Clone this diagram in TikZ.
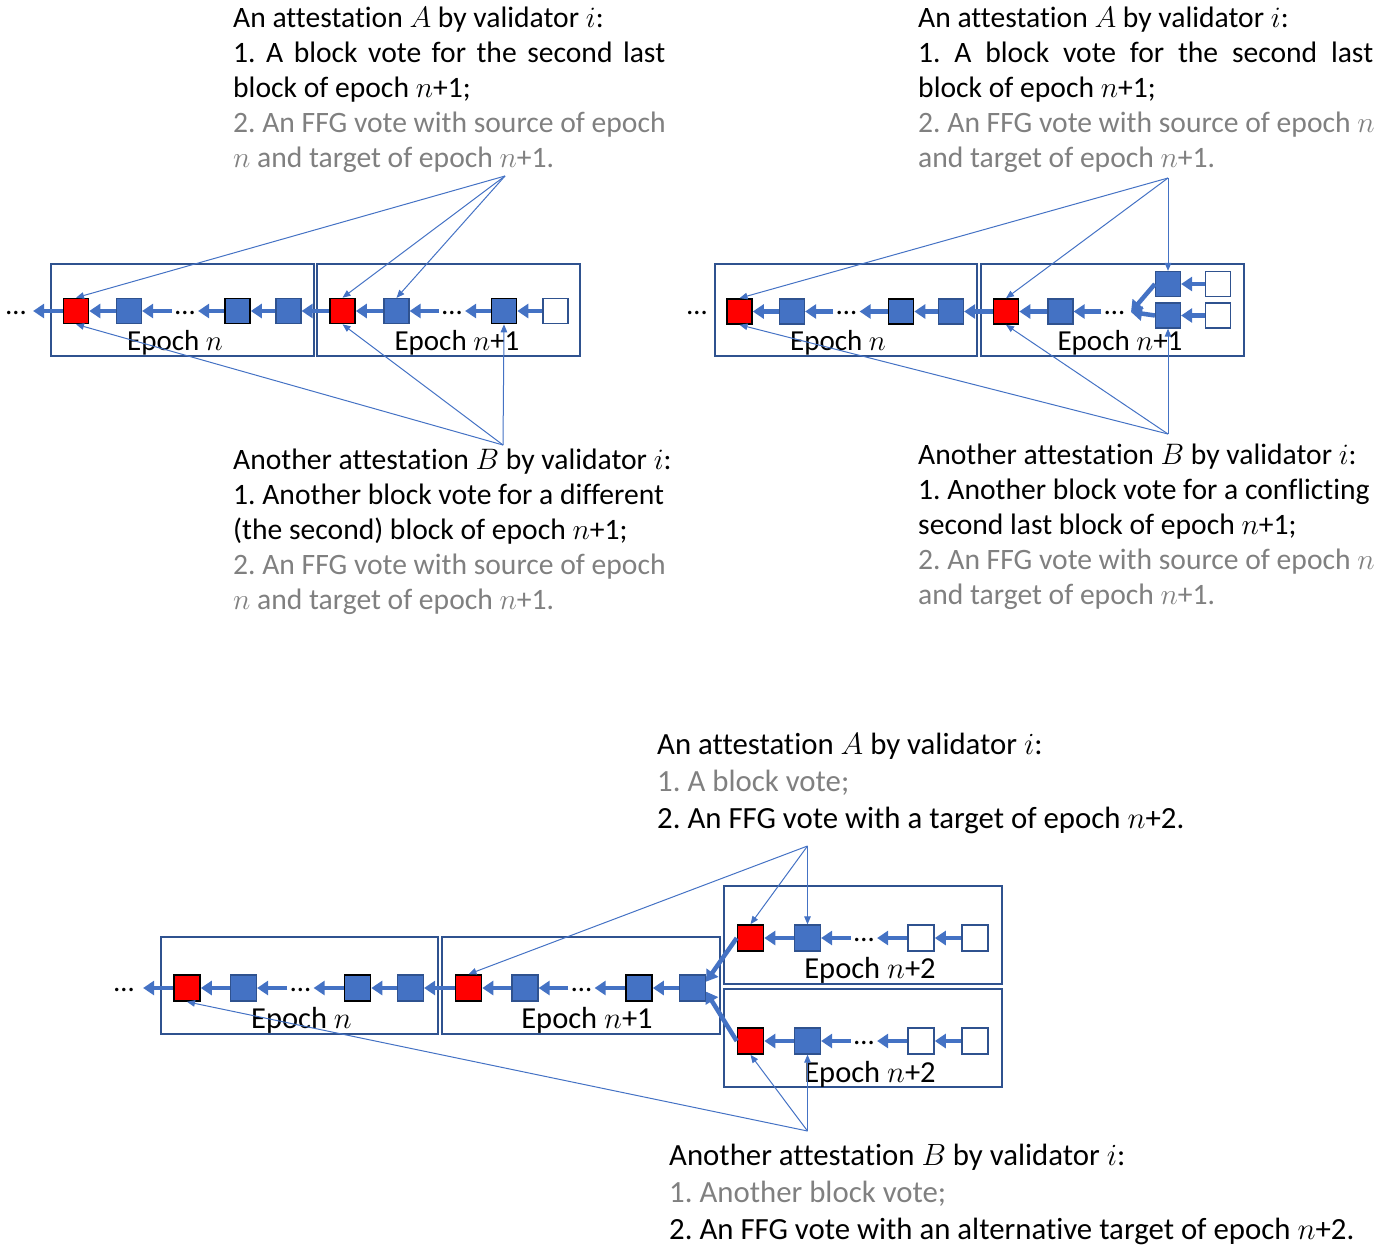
\RequirePackage{fix-cm}
\documentclass[tikz,border=0pt]{standalone}
\usepackage{fontspec}
\setmainfont{Carlito}[Ligatures=NoCommon]
\usetikzlibrary{arrows.meta}
\frenchspacing

\definecolor{officeblue}{HTML}{4472C4}
\definecolor{edgeblue}{HTML}{2F528F}
\definecolor{notegray}{HTML}{808080}
\newcommand{\grayline}[1]{{\color{notegray}#1}}
% ellipsis set on the chain axis, with no height of its own
\newcommand{\chaindots}{\raisebox{-3pt}[0pt][0pt]{…}}

\begin{document}
\begin{tikzpicture}[x=1pt, y=-1pt,
  blk/.style={rectangle, minimum size=25pt, inner sep=0pt, draw=edgeblue, line width=1.2pt, fill=officeblue},
  blkb/.style={blk, draw=black, line width=1.6pt},
  blkr/.style={blk, fill=red, draw=black, line width=1.6pt},
  blkw/.style={blk, fill=white, draw=edgeblue, line width=1.6pt},
  wide/.style={minimum size=26pt},
  dots/.style={inner xsep=3pt, inner ysep=3pt, font=\fontsize{28.7}{35}\selectfont},
  chain/.style={draw=officeblue, line width=4.5pt, -{Triangle[length=11pt,width=14pt]}},
  vote/.style={draw=officeblue, line width=1pt, -{Triangle[length=8pt,width=6.5pt]}},
  epochbox/.style={draw=edgeblue, line width=1.6pt, inner sep=0pt},
  lbl/.style={anchor=base, inner sep=0pt, font=\fontsize{29}{35}\selectfont},
  lblb/.style={lbl, font=\fontsize{30.5}{37}\selectfont},
  note/.style={anchor=base west, inner sep=0pt, align=left, font=\fontsize{29.6}{35}\selectfont},
  noteb/.style={note, font=\fontsize{30.8}{37}\selectfont}
]
\useasboundingbox (0,0) rectangle (1392,1245);

% ---------------- top left: two block votes in epoch n+1 ----------------
\node[epochbox, minimum width=263pt, minimum height=92pt] (tlE1) at (182.5,310) {};
\node[epochbox, minimum width=263pt, minimum height=92pt] (tlE2) at (448.5,310) {};
\node[lbl] (tlL1) at (175,350) {Epoch $n$};
\node[lbl] (tlL2) at (457,350) {Epoch $n$+1};

\node[dots] (tl0) at (16,311) {\chaindots};
\node[blkr] (tl1) at (76,311) {};
\node[blk]  (tl2) at (129,311) {};
\node[dots] (tl3) at (185,311) {\chaindots};
\node[blkb] (tl4) at (237.5,311) {};
\node[blk]  (tl5) at (288.5,311) {};
\node[blkr] (tl6) at (342.5,311) {};
\node[blk]  (tl7) at (396.5,311) {};
\node[dots] (tl8) at (452,311) {\chaindots};
\node[blkb] (tl9) at (504,311) {};
\node[blkw] (tl10) at (555.5,311) {};

\draw[chain, shorten >=4pt] (tl1) -- (tl0);
\draw[chain] (tl2) -- (tl1);
\draw[chain] (tl3) -- (tl2);
\draw[chain] (tl4) -- (tl3);
\draw[chain] (tl5) -- (tl4);
\draw[chain] (tl6) -- (tl5);
\draw[chain] (tl7) -- (tl6);
\draw[chain] (tl8) -- (tl7);
\draw[chain] (tl9) -- (tl8);
\draw[chain] (tl10) -- (tl9);

\coordinate (tlA) at (505,176);
\coordinate (tlB) at (503,445);
\draw[vote] (tlA) -- (tl1.north);
\draw[vote] (tlA) -- (tl6.north);
\draw[vote] (tlA) -- (tl7.north);
\draw[vote] (tlB) -- (tl1.south);
\draw[vote] (tlB) -- (tl6.south);
\draw[vote] (tlB) -- (tl9.south);

% multi-line notes are anchored at the baseline of their last line
\node[note] (tlAtxt) at (233,167) {An attestation $A$ by validator $i$:\\
  \makebox[432pt][s]{1. A block vote for the second last}\\
  block of epoch $n$+1;\\
  \grayline{2. An FFG vote with source of epoch}\\
  \grayline{$n$ and target of epoch $n$+1.}};
\node[note] (tlBtxt) at (233,609) {Another attestation $B$ by validator $i$:\\
  1. Another block vote for a different\\
  (the second) block of epoch $n$+1;\\
  \grayline{2. An FFG vote with source of epoch}\\
  \grayline{$n$ and target of epoch $n$+1.}};

% ---------------- top right: conflicting second last blocks ----------------
\node[epochbox, minimum width=262pt, minimum height=92pt] (trE1) at (846,310) {};
\node[epochbox, minimum width=263pt, minimum height=92pt] (trE2) at (1112.5,310) {};
\node[lbl] (trL1) at (838,350) {Epoch $n$};
\node[lbl] (trL2) at (1120,350) {Epoch $n$+1};

\node[dots] (tr0) at (697,311.5) {\chaindots};
\node[blkr] (tr1) at (739.5,311.5) {};
\node[blk]  (tr2) at (792,311.5) {};
\node[dots] (tr3) at (846.5,311.5) {\chaindots};
\node[blkb] (tr4) at (901,311.5) {};
\node[blk]  (tr5) at (951,311.5) {};
\node[blkr] (tr6) at (1006,311.5) {};
\node[blk]  (tr7) at (1060.5,311.5) {};
\node[dots] (tr8) at (1114.5,311.5) {\chaindots};
\coordinate (trM) at (1131,312);
\node[blk]  (trU) at (1168,284) {};
\node[blk]  (trD) at (1168,315.5) {};
\node[blkw] (trUw) at (1218,284) {};
\node[blkw] (trDw) at (1218,315.5) {};

\draw[chain] (tr2) -- (tr1);
\draw[chain] (tr3) -- (tr2);
\draw[chain] (tr4) -- (tr3);
\draw[chain] (tr5) -- (tr4);
\draw[chain] (tr6) -- (tr5);
\draw[chain] (tr7) -- (tr6);
\draw[chain] (tr8) -- (tr7);
\draw[chain] (trU.west) -- (trM);
\draw[chain] (trD.west) -- (trM);
\draw[chain] (trUw) -- (trU);
\draw[chain] (trDw) -- (trD);

\coordinate (trA) at (1168,178);
\coordinate (trB) at (1168,434);
\draw[vote] (trA) -- (tr1.north);
\draw[vote] (trA) -- (tr6.north);
\draw[vote] (trA) -- (trU.north);
\draw[vote] (trB) -- (tr1.south);
\draw[vote] (trB) -- (tr6.south);
\draw[vote] (trB) -- (trD.south);

\node[note] (trAtxt) at (918,167) {An attestation $A$ by validator $i$:\\
  \makebox[455pt][s]{1. A block vote for the second last}\\
  block of epoch $n$+1;\\
  \grayline{2. An FFG vote with source of epoch $n$}\\
  \grayline{and target of epoch $n$+1.}};
\node[note] (trBtxt) at (918,604) {Another attestation $B$ by validator $i$:\\
  1. Another block vote for a conflicting\\
  second last block of epoch $n$+1;\\
  \grayline{2. An FFG vote with source of epoch $n$}\\
  \grayline{and target of epoch $n$+1.}};

% ---------------- bottom: two targets in epoch n+2 ----------------
\node[epochbox, minimum width=277pt, minimum height=97pt] (bE1) at (299.5,985.5) {};
\node[epochbox, minimum width=278pt, minimum height=97pt] (bE2) at (581,985.5) {};
\node[epochbox, minimum width=278pt, minimum height=98pt] (bE3) at (863,935) {};
\node[epochbox, minimum width=278pt, minimum height=98pt] (bE4) at (863,1038) {};
\node[lblb] (bL1) at (301.5,1028) {Epoch $n$};
\node[lblb] (bL2) at (587,1028) {Epoch $n$+1};
\node[lblb] (bL3) at (870,978) {Epoch $n$+2};
\node[lblb] (bL4) at (870,1082) {Epoch $n$+2};

\node[dots] (bo0) at (124,988) {\chaindots};
\node[blkr, wide] (bo1) at (187,988) {};
\node[blk, wide]  (bo2) at (243.5,988) {};
\node[dots] (bo3) at (300.5,988) {\chaindots};
\node[blkb, wide] (bo4) at (357.5,988) {};
\node[blk, wide]  (bo5) at (410.5,988) {};
\node[blkr, wide] (bo6) at (468.5,988) {};
\node[blk, wide]  (bo7) at (525,988) {};
\node[dots] (bo8) at (581.5,988) {\chaindots};
\node[blkb, wide] (bo9) at (639,988) {};
\node[blk, wide]  (bo10) at (692.5,988) {};

\node[blkr, wide] (up1) at (750.5,938) {};
\node[blk, wide]  (up2) at (807.5,938) {};
\node[dots] (up3) at (864,938) {\chaindots};
\node[blkw, wide] (up4) at (921,938) {};
\node[blkw, wide] (up5) at (975,938) {};

\node[blkr, wide] (lo1) at (750.5,1041) {};
\node[blk, wide]  (lo2) at (807.5,1041) {};
\node[dots] (lo3) at (864,1041) {\chaindots};
\node[blkw, wide] (lo4) at (921,1041) {};
\node[blkw, wide] (lo5) at (975,1041) {};

\draw[chain, shorten >=6pt] (bo1) -- (bo0);
\draw[chain] (bo2) -- (bo1);
\draw[chain] (bo3) -- (bo2);
\draw[chain] (bo4) -- (bo3);
\draw[chain] (bo5) -- (bo4);
\draw[chain] (bo6) -- (bo5);
\draw[chain] (bo7) -- (bo6);
\draw[chain] (bo8) -- (bo7);
\draw[chain] (bo9) -- (bo8);
\draw[chain] (bo10) -- (bo9);
\draw[chain] (up1.west) -- (bo10.25);
\draw[chain] (lo1.west) -- (bo10.-15);
\draw[chain] (up2) -- (up1);
\draw[chain] (up3) -- (up2);
\draw[chain] (up4) -- (up3);
\draw[chain] (up5) -- (up4);
\draw[chain] (lo2) -- (lo1);
\draw[chain] (lo3) -- (lo2);
\draw[chain] (lo4) -- (lo3);
\draw[chain] (lo5) -- (lo4);

\coordinate (bA) at (807.5,846);
\coordinate (bB) at (807.5,1131);
\draw[vote] (bA) -- (bo6.north);
\draw[vote] (bA) -- (up1.north);
\draw[vote] (bA) -- (up2.north);
\draw[vote] (bB) -- (bo1.south);
\draw[vote] (bB) -- (lo1.south);
\draw[vote] (bB) -- (lo2.south);

\node[noteb] (bAtxt) at (657,828) {An attestation $A$ by validator $i$:\\
  \grayline{1. A block vote;}\\
  2. An FFG vote with a target of epoch $n$+2.};
\node[noteb] (bBtxt) at (669,1239) {Another attestation $B$ by validator $i$:\\
  \grayline{1. Another block vote;}\\
  2. An FFG vote with an alternative target of epoch $n$+2.};
\end{tikzpicture}
\end{document}
